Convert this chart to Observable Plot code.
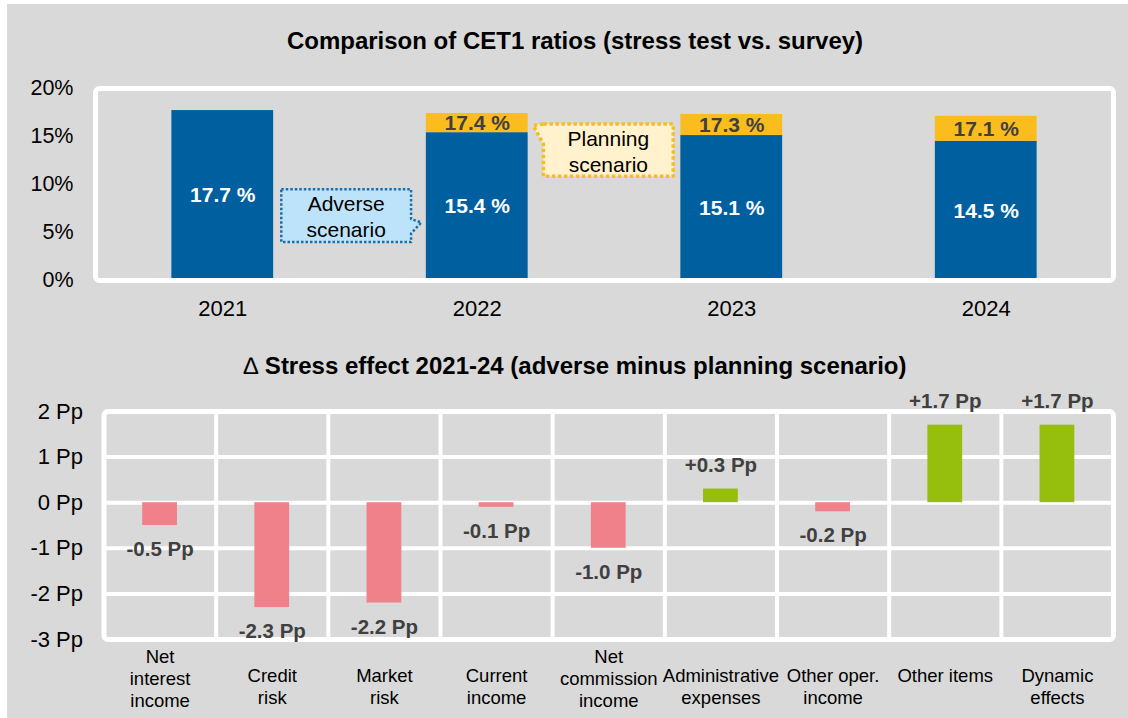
<!DOCTYPE html>
<html><head><meta charset="utf-8">
<script src="https://cdn.jsdelivr.net/npm/d3@7"></script>
<script src="https://cdn.jsdelivr.net/npm/@observablehq/plot@0.6"></script>
<style>
body{margin:0;background:#fff;width:1128px;height:718px;overflow:hidden;position:relative;font-family:"Liberation Sans",Arial,sans-serif;}
#bg{position:absolute;left:7px;top:4px;right:0;bottom:0;background:#d9d9d9;}
.title{position:absolute;left:0;width:1150px;text-align:center;font-weight:bold;font-size:24px;line-height:24px;color:#000;white-space:nowrap;}
#c1,#c2{position:absolute;left:0;}
#c1{top:60px}
#c2{top:385px}
</style></head><body>
<div id="bg"></div>
<div class="title" style="top:29px">Comparison of CET1 ratios (stress test vs. survey)</div>
<div id="c1"></div>
<div class="title" style="top:354px"><span style="font-weight:normal">∆</span> Stress effect 2021-24 (adverse minus planning scenario)</div>
<div id="c2"></div>
<script>
// ---- data: top panel ----
const years = [2021, 2022, 2023, 2024];
const adverseCET1 = [17.7, 15.4, 15.1, 14.5];
const planningCET1 = [null, 17.4, 17.3, 17.1];
const topTicks = [0, 5, 10, 15, 20];

// ---- data: bottom panel ----
const categories = [
  "Net\ninterest\nincome", "Credit\nrisk", "Market\nrisk", "Current\nincome",
  "Net\ncommission\nincome", "Administrative\nexpenses", "Other oper.\nincome",
  "Other items", "Dynamic\neffects"
];
const stressEffect = [-0.5, -2.3, -2.2, -0.1, -1.0, 0.3, -0.2, 1.7, 1.7];
const bottomTicks = [-3, -2, -1, 0, 1, 2];

// ---- annotation callouts (data units of the top panel) ----
const adverseCallout = [
  {x: 2021.23, y: 9.5}, {x: 2021.74, y: 9.5}, {x: 2021.74, y: 6.4},
  {x: 2021.78, y: 6.05}, {x: 2021.74, y: 4.9}, {x: 2021.74, y: 4.0}, {x: 2021.23, y: 4.0}
];
const planningCallout = [
  {x: 2022.26, y: 16.3}, {x: 2022.77, y: 16.3}, {x: 2022.77, y: 10.85},
  {x: 2022.26, y: 10.85}, {x: 2022.26, y: 14.2}, {x: 2022.22, y: 16.15}
];
const calloutLabels = [
  {x: 2021.485, y: 6.75, text: "Adverse\nscenario"},
  {x: 2022.515, y: 13.55, text: "Planning\nscenario"}
];

const FONT = '"Liberation Sans", Arial, sans-serif';
const BLUE = "#00609f", ORANGE = "#fabd1d", PINK = "#f08089", GREEN = "#96be0d", DARK = "#404040";

const rows = years.map((year, i) => ({year, adverse: adverseCET1[i], planning: planningCET1[i]}));
const rowsP = rows.filter(d => d.planning != null);
const pct = v => v.toFixed(1) + " %";

const chart1 = Plot.plot({
  width: 1128, height: 270,
  marginLeft: 95, marginRight: 15, marginTop: 28, marginBottom: 50,
  style: {background: "transparent", fontFamily: FONT, color: "#000", overflow: "visible"},
  x: {type: "linear", domain: [2020.5, 2024.5], label: null},
  y: {domain: [0, 20], label: null},
  marks: [
    Plot.rect(rows, {x1: d => d.year - 0.2, x2: d => d.year + 0.2, y1: 0, y2: "adverse", fill: BLUE}),
    Plot.rect(rowsP, {x1: d => d.year - 0.2, x2: d => d.year + 0.2, y1: "adverse", y2: "planning", fill: ORANGE}),
    Plot.line(adverseCallout, {x: "x", y: "y", curve: "linear-closed", fill: "#bde3fa", stroke: "#1a6fb0", strokeWidth: 2.5, strokeDasharray: "2.5,2", strokeLinecap: "butt"}),
    Plot.line(planningCallout, {x: "x", y: "y", curve: "linear-closed", fill: "#fff2cc", stroke: "#f6be22", strokeWidth: 3.5, strokeDasharray: "3.5,2.5", strokeLinecap: "butt"}),
    Plot.text(calloutLabels, {x: "x", y: "y", text: "text", fontSize: 21, lineHeight: 1.24, fill: "#000"}),
    Plot.frame({stroke: "white", strokeWidth: 5, rx: 4}),
    Plot.text(rows, {x: "year", y: d => d.adverse / 2, text: d => pct(d.adverse), fill: "white", fontWeight: "bold", fontSize: 21}),
    Plot.text(rowsP, {x: "year", y: d => (d.adverse + d.planning) / 2, text: d => pct(d.planning), fill: DARK, fontWeight: "bold", fontSize: 21}),
    Plot.axisX({ticks: years, tickFormat: d => String(d), tickSize: 0, tickPadding: 20, fontSize: 22, label: null}),
    Plot.axisY({ticks: topTicks, tickFormat: d => d + "%", tickSize: 0, tickPadding: 22, fontSize: 21.5, label: null})
  ]
});
document.getElementById("c1").appendChild(chart1);

const rowsB = categories.map((label, i) => ({i, label, value: stressEffect[i], lines: label.split("\n").length}));
const pp = v => (v > 0 ? "+" : "") + v.toFixed(1) + " Pp";
const neg = rowsB.filter(d => d.value < 0), pos = rowsB.filter(d => d.value >= 0);

const chart2 = Plot.plot({
  width: 1128, height: 333,
  marginLeft: 103.5, marginRight: 15, marginTop: 26, marginBottom: 79,
  style: {background: "transparent", fontFamily: FONT, color: "#000", overflow: "visible"},
  x: {type: "linear", domain: [-0.5, categories.length - 0.5], axis: null, label: null},
  y: {domain: [-3, 2], label: null},
  marks: [
    Plot.ruleY(bottomTicks.slice(1, -1), {stroke: "white", strokeWidth: 4}),
    Plot.ruleX(d3.range(0.5, categories.length - 1), {stroke: "white", strokeWidth: 4}),
    Plot.rect(neg, {x1: d => d.i - 0.155, x2: d => d.i + 0.155, y1: 0, y2: "value", fill: PINK}),
    Plot.rect(pos, {x1: d => d.i - 0.155, x2: d => d.i + 0.155, y1: 0, y2: "value", fill: GREEN}),
    Plot.frame({stroke: "white", strokeWidth: 5, rx: 4}),
    Plot.text(neg, {x: "i", y: "value", dy: 24, text: d => pp(d.value), fill: DARK, fontWeight: "bold", fontSize: 20.5}),
    Plot.text(pos, {x: "i", y: "value", dy: -24, text: d => pp(d.value), fill: DARK, fontWeight: "bold", fontSize: 20.5}),
    Plot.text(rowsB.filter(d => d.lines < 3), {x: "i", frameAnchor: "bottom", dy: 26.5, lineAnchor: "top", text: "label", fontSize: 18.5, lineHeight: 1.19, fill: "#000"}),
    Plot.text(rowsB.filter(d => d.lines >= 3), {x: "i", frameAnchor: "bottom", dy: 8, lineAnchor: "top", text: "label", fontSize: 18.5, lineHeight: 1.19, fill: "#000"}),
    Plot.axisY({ticks: bottomTicks, tickFormat: d => d + " Pp", tickSize: 0, tickPadding: 21, fontSize: 22, label: null})
  ]
});
document.getElementById("c2").appendChild(chart2);
</script>
</body></html>
